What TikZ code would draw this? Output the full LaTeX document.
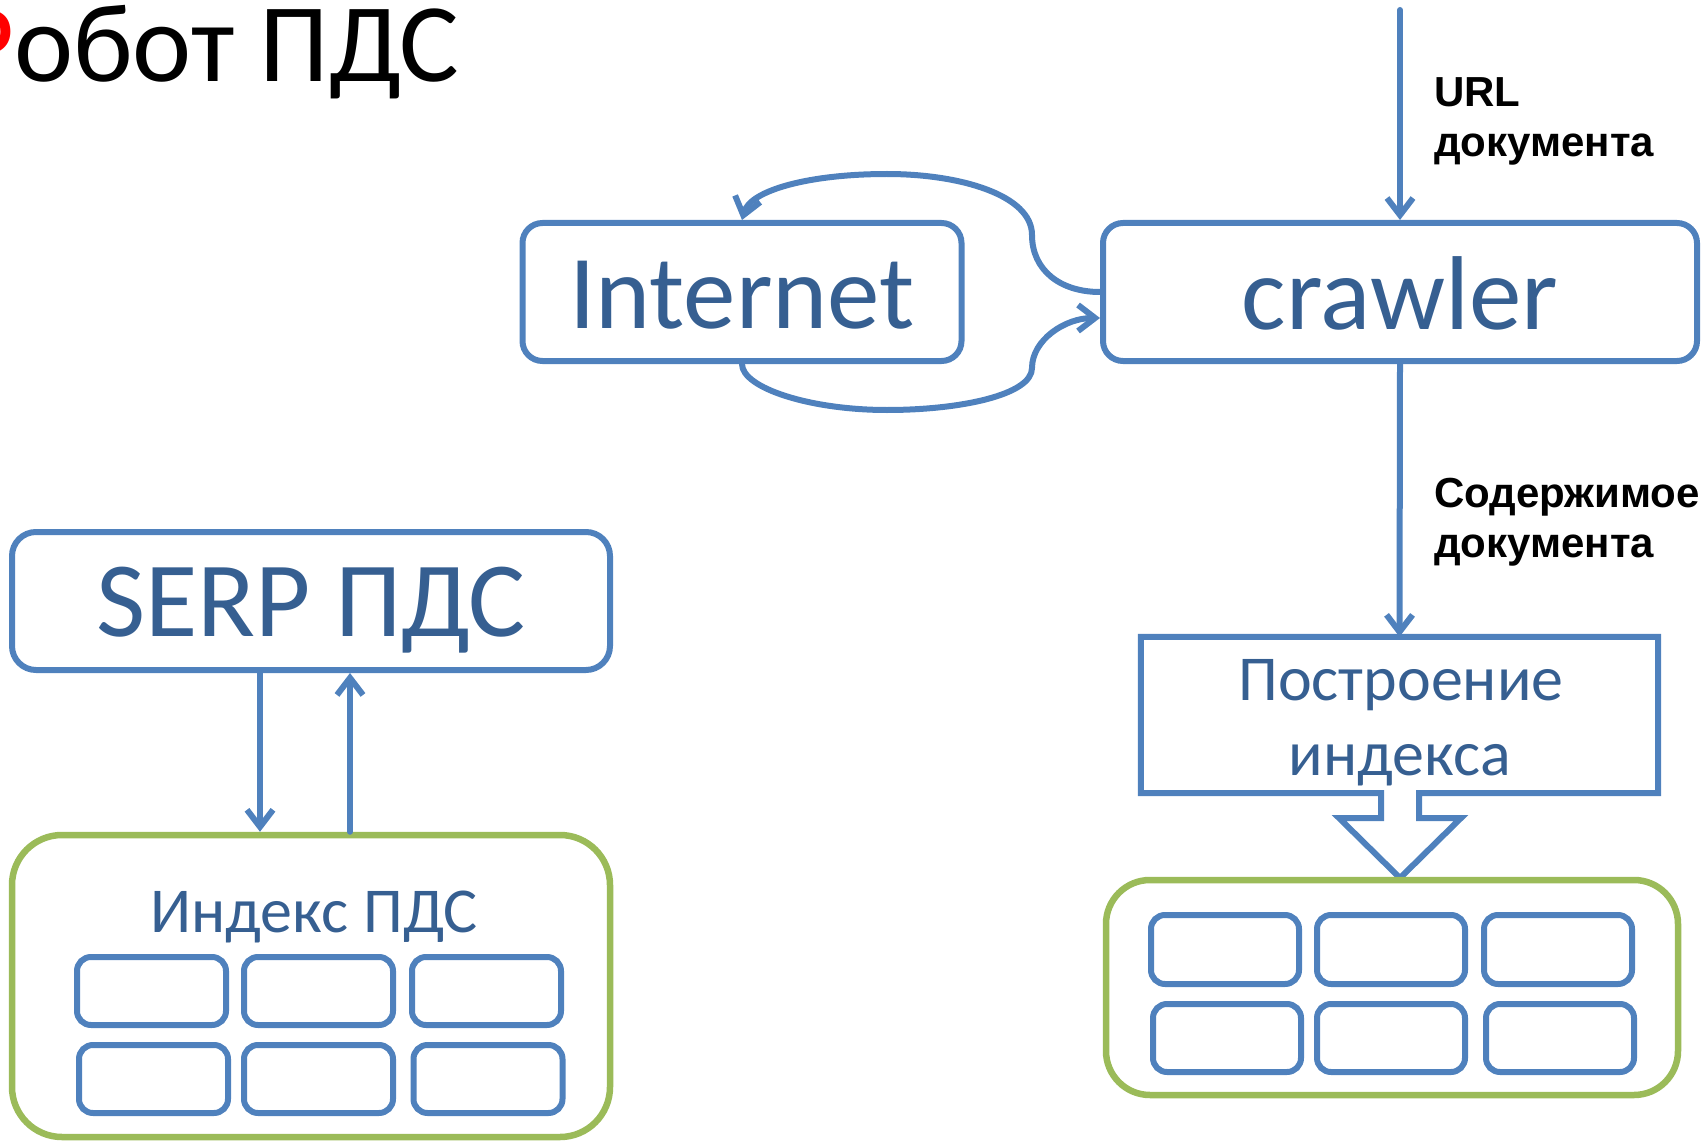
\documentclass[tikz,border=0pt]{standalone}
\usepackage{fontspec}
\setmainfont{Carlito}
\newfontfamily\lblfont{Liberation Sans}
\usetikzlibrary{arrows.meta}
\definecolor{boxblue}{RGB}{79,129,189}
\definecolor{txtblue}{RGB}{54,95,145}
\definecolor{boxgreen}{RGB}{155,187,89}
\definecolor{titlered}{RGB}{255,0,0}
\begin{document}
\begin{tikzpicture}[x=1pt,y=-1pt,
  rbox/.style={draw=boxblue, line width=6pt, rounded corners=20pt, inner sep=0pt, text=txtblue, font=\fontsize{105}{110}\selectfont},
  cont/.style={draw=boxgreen, line width=6.5pt, rounded corners=50pt, inner sep=0pt},
  cell/.style={draw=boxblue, line width=6pt, rounded corners=14pt, inner sep=0pt, minimum width=149pt, minimum height=68pt},
  conn/.style={draw=boxblue, line width=6pt, line cap=round, line join=round, -{Straight Barb[length=17pt,width=26pt]}},
  lbl/.style={font=\lblfont\bfseries\fontsize{42}{49}\selectfont, anchor=base west, inner sep=0pt},
  midtxt/.style={font=\fontsize{64}{70}\selectfont, text=txtblue, anchor=base, inner sep=0pt}
]
\path[use as bounding box] (0,0) rectangle (1706,1142);

% title
\node[anchor=base west, inner sep=0pt, font=\fontsize{112}{120}\selectfont] (title) at (-44,82) {{\color{titlered}Р}обот ПДС};

% main boxes
\node[rbox, minimum width=439pt, minimum height=138pt, text height=72pt, text depth=0pt] (internet) at (742,292) {Internet};
\node[rbox, minimum width=594pt, minimum height=138pt, text height=74pt, text depth=0pt] (crawler) at (1400,292) {crawler};
\node[rbox, rounded corners=24pt, font=\fontsize{107}{110}\selectfont, minimum width=598pt, minimum height=138pt, text height=70pt, text depth=0pt] (serp) at (311,601) {SERP ПДС};

% build index box (callout with block arrow)
\node[inner sep=0pt, minimum width=517pt, minimum height=156pt] (build) at (1399.5,715) {};
\draw[boxblue, line width=6pt, line join=miter]
  (build.south west) -- (1381,793) -- (1381,818) -- (1339,818) -- (1400,878)
  -- (1461,818) -- (1419,818) -- (1419,793) -- (build.south east)
  -- (build.north east) -- (build.north west) -- cycle;
\node[midtxt] (buildt1) at (1401,700) {Построение};
\node[midtxt] (buildt2) at (1400,775) {индекса};

% containers
\node[cont, minimum width=598pt, minimum height=302pt] (idxL) at (311,986) {};
\node[cont, rounded corners=44pt, minimum width=572pt, minimum height=215pt] (idxR) at (1392,987.5) {};
\node[midtxt] (idxLt) at (314,932) {Индекс ПДС};

% cells left
\node[cell] (l11) at (151.5,991) {};
\node[cell] (l12) at (318.5,991) {};
\node[cell] (l13) at (486.5,991) {};
\node[cell] (l21) at (153.5,1079) {};
\node[cell] (l22) at (318.5,1079) {};
\node[cell] (l23) at (488,1079) {};
% cells right
\node[cell, minimum width=148pt, minimum height=69pt] (r11) at (1225,949.5) {};
\node[cell, minimum width=148pt, minimum height=69pt] (r12) at (1391,949.5) {};
\node[cell, minimum width=148pt, minimum height=69pt] (r13) at (1558,949.5) {};
\node[cell, minimum width=148pt] (r21) at (1227,1038) {};
\node[cell, minimum width=148pt] (r22) at (1391,1038) {};
\node[cell, minimum width=148pt] (r23) at (1560,1038) {};

% connectors
\coordinate (urlsrc) at (1400,10);
\draw[conn] (urlsrc) -- (crawler.north);
\draw[conn] (crawler.south) -- (build.north);
\draw[conn] ([xshift=-51pt]serp.south) -- ([xshift=-51pt]serp.south |- idxL.north);
\draw[conn] ([xshift=39pt]serp.south |- idxL.north) -- ([xshift=39pt]serp.south);

\draw[conn] (crawler.west) .. controls (1060,292) and (1032,270) .. (1032,235)
  .. controls (1032,195) and (960,174) .. (887,174)
  .. controls (810,174) and (750,190) .. (internet.north);
\draw[conn] (internet.south) .. controls (742,388) and (810,410) .. (887,410)
  .. controls (960,410) and (1032,395) .. (1032,368)
  .. controls (1032,340) and (1065,318) .. ([yshift=-26pt]crawler.west);

% labels
\node[lbl] (url1) at (1434,107) {URL};
\node[lbl] (url2) at (1434,157) {документа};
\node[lbl] (cont1) at (1434,507) {Содержимое};
\node[lbl] (cont2) at (1434,557) {документа};
\end{tikzpicture}
\end{document}
